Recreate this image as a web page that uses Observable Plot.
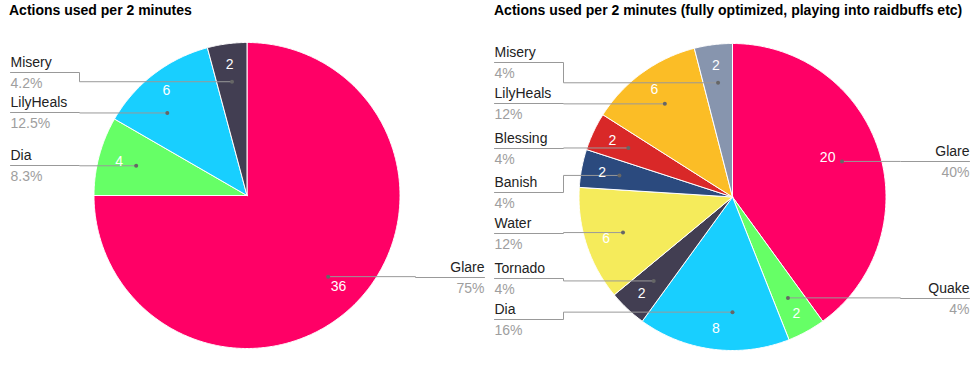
<!DOCTYPE html>
<html><head><meta charset="utf-8">
<script src="https://cdn.jsdelivr.net/npm/d3@7"></script>
<script src="https://cdn.jsdelivr.net/npm/@observablehq/plot@0.6"></script>
<style>
body{margin:0;background:#fff;font-family:"Liberation Sans",Arial,sans-serif;}
#wrap{width:976px;}
#titles{position:relative;height:22px;}
#titles span{position:absolute;top:2px;font-weight:bold;font-size:14px;color:#000;line-height:16px;white-space:nowrap;}
</style></head><body>
<div id="wrap"><div id="titles"></div><div id="chart"></div></div>
<script>
// ---- data ----
const titles = ["Actions used per 2 minutes", "Actions used per 2 minutes (fully optimized, playing into raidbuffs etc)"];
const leftNames = ["Glare", "Dia", "LilyHeals", "Misery"];
const leftValues = [36, 4, 6, 2];
const rightNames = ["Glare", "Quake", "Dia", "Tornado", "Water", "Banish", "Blessing", "LilyHeals", "Misery"];
const rightValues = [20, 2, 8, 2, 6, 2, 2, 6, 2];

// ---- styles / layout ----
const leftColors = ["#ff0066", "#66ff66", "#18cfff", "#423e52"];
const rightColors = ["#ff0066", "#66ff66", "#18cfff", "#423e52", "#f5eb5b", "#2b4a7e", "#d92828", "#fbbd26", "#8795ae"];
const leftLineY = [277, 165, 112, 72];
const rightLineY = [161, 298, 319, 278, 233, 192, 148, 103, 62];
const TOP = 22, W = 976, H = 384;

const charts = [
  {names: leftNames, values: leftValues, colors: leftColors, lineY: leftLineY,
   cx: 246.5, cy: 195, R: 153, textX: 10, elbowX: 79, rightX: 484, titleX: 9,
   override: {Glare: {rf: 0.845}}, dotOverride: {LilyHeals: {angle: 316}}},
  {names: rightNames, values: rightValues, colors: rightColors, lineY: rightLineY,
   cx: 732, cy: 196.5, R: 153.5, textX: 494, elbowX: 563, rightX: 969, titleX: 494,
   override: {Glare: {rf: 0.67, angle: 67.7}}, dotOverride: {Dia: {angle: 180}}}
];

const titleDiv = document.getElementById("titles");
charts.forEach((c, i) => {
  const s = document.createElement("span");
  s.style.left = c.titleX + "px";
  s.textContent = titles[i];
  titleDiv.appendChild(s);
});

const fmt = d3.format(".1~%");
const slicePts = [], leaderPts = [], dots = [], values = [], names = [], pcts = [];
const rad = Math.PI / 180;
charts.forEach((c, ci) => {
  const total = d3.sum(c.values);
  const arcs = d3.pie().sort(null).value(d => d)(c.values);
  arcs.forEach((a, i) => {
    const key = ci + "|" + c.names[i];
    const col = c.colors[i];
    slicePts.push({key, color: col, x: c.cx, y: c.cy});
    const n = Math.max(2, Math.ceil((a.endAngle - a.startAngle) / (0.5 * rad)));
    for (let k = 0; k <= n; k++) {
      const t = a.startAngle + (a.endAngle - a.startAngle) * k / n;
      slicePts.push({key, color: col, x: c.cx + c.R * Math.sin(t), y: c.cy - c.R * Math.cos(t)});
    }
    slicePts.push({key, color: col, x: c.cx, y: c.cy});

    const mid = (a.startAngle + a.endAngle) / 2;
    const ov = c.override[c.names[i]] || {};
    const va = ov.angle != null ? ov.angle * rad : mid;
    const vr = (ov.rf || 0.865) * c.R;
    values.push({x: c.cx + vr * Math.sin(va), y: c.cy - vr * Math.cos(va), text: String(c.values[i])});

    const dov = c.dotOverride[c.names[i]] || {};
    const da = dov.angle != null ? dov.angle * rad : mid;
    const dr = 0.75 * c.R;
    const dx = c.cx + dr * Math.sin(da), dy = c.cy - dr * Math.cos(da);
    dots.push({x: dx, y: dy});
    const ly = c.lineY[i];
    const left = mid > Math.PI;
    if (left) {
      [[c.textX, ly], [c.elbowX, ly], [c.elbowX, dy], [dx, dy]].forEach(p => leaderPts.push({key, x: p[0], y: p[1]}));
    } else {
      [[c.rightX, ly], [c.rightX - 69, ly], [c.rightX - 69, dy], [dx, dy]].forEach(p => leaderPts.push({key, x: p[0], y: p[1]}));
    }
    const tx = left ? c.textX : c.rightX;
    names.push({x: tx, y: ly - 9.5, text: c.names[i], left});
    pcts.push({x: tx, y: ly + 11.5, text: fmt(c.values[i] / total), left});
  });
});

const plot = Plot.plot({
  width: W, height: H - TOP,
  margin: 0,
  x: {domain: [0, W], range: [0, W], axis: null},
  y: {domain: [TOP, H], range: [0, H - TOP], axis: null},
  color: {type: "identity"},
  style: {fontFamily: "'Liberation Sans', Arial, sans-serif", fontSize: "14px", background: "white"},
  marks: [
    Plot.line(slicePts, {x: "x", y: "y", z: "key", fill: "color", stroke: "white", strokeWidth: 1, strokeLinejoin: "round"}),
    Plot.line(leaderPts, {x: "x", y: "y", z: "key", stroke: "#999", strokeWidth: 1}),
    Plot.dot(dots, {x: "x", y: "y", r: 2, fill: "#666", stroke: null}),
    Plot.text(values, {x: "x", y: "y", text: "text", fill: "white", fontSize: 14}),
    Plot.text(names.filter(d => d.left), {x: "x", y: "y", text: "text", fill: "#222", fontSize: 14, textAnchor: "start"}),
    Plot.text(names.filter(d => !d.left), {x: "x", y: "y", text: "text", fill: "#222", fontSize: 14, textAnchor: "end"}),
    Plot.text(pcts.filter(d => d.left), {x: "x", y: "y", text: "text", fill: "#9e9e9e", fontSize: 14, textAnchor: "start"}),
    Plot.text(pcts.filter(d => !d.left), {x: "x", y: "y", text: "text", fill: "#9e9e9e", fontSize: 14, textAnchor: "end"})
  ]
});
document.getElementById("chart").appendChild(plot);
</script>
</body></html>
